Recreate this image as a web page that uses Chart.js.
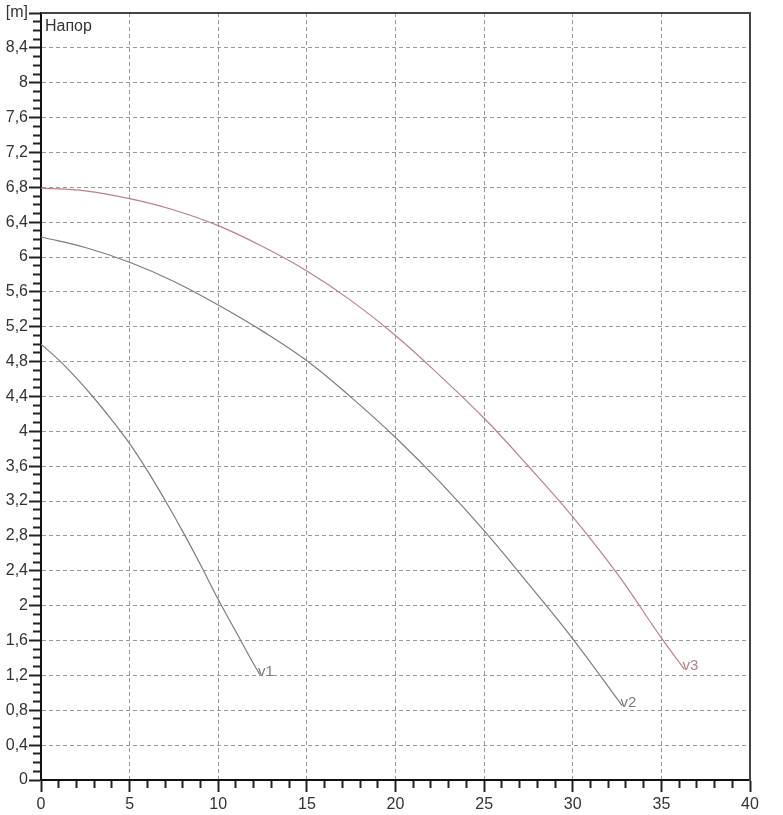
<!DOCTYPE html>
<html><head><meta charset="utf-8">
<script src="https://cdn.jsdelivr.net/npm/chart.js@4/dist/chart.umd.min.js"></script>
<style>html,body{margin:0;padding:0;background:#fff}</style>
</head><body>
<canvas id="c" width="783" height="815"></canvas>
<script>
// ---- data ----
const curveNames = ['v1', 'v2', 'v3'];
const v1X = [0, 1, 2, 3, 4, 5, 6, 7, 8, 9, 10, 11, 12, 12.35];
const v1Y = [5.0, 4.82, 4.61, 4.38, 4.13, 3.86, 3.55, 3.21, 2.85, 2.47, 2.07, 1.7, 1.33, 1.21];
const v2X = [0, 2.5, 5, 7.5, 10, 12.5, 15, 17.5, 20, 22.5, 25, 27.5, 30, 32.8];
const v2Y = [6.23, 6.11, 5.94, 5.72, 5.45, 5.15, 4.81, 4.39, 3.93, 3.42, 2.86, 2.25, 1.62, 0.85];
const v3X = [0, 2.5, 5, 7.5, 10, 12.5, 15, 17.5, 20, 22.5, 25, 27.5, 30, 32.5, 35, 36.3];
const v3Y = [6.79, 6.76, 6.67, 6.54, 6.36, 6.12, 5.84, 5.5, 5.1, 4.64, 4.15, 3.6, 3.02, 2.37, 1.63, 1.27];
const xTickLabels = ['0', '5', '10', '15', '20', '25', '30', '35', '40'];
const yUnitLabel = '[m]';
const plotTitle = 'Напор';

const seriesX = [v1X, v2X, v3X];
const seriesY = [v1Y, v2Y, v3Y];
const seriesColor = ['#7d7d7d', '#7d7d7d', '#bb8089'];

const isMult = (v, s) => Math.abs(v / s - Math.round(v / s)) < 1e-6;

const datasets = curveNames.map((n, i) => ({
  label: n,
  data: seriesX[i].map((x, j) => ({x: x, y: seriesY[i][j]})),
  borderColor: seriesColor[i],
  borderWidth: 1.2,
  pointRadius: 0,
  showLine: true,
  fill: false,
  tension: 0.4
}));

const FONT = '"Liberation Sans", Arial, sans-serif';

const annot = {
  id: 'annot',
  afterDraw(chart) {
    const ctx = chart.ctx, a = chart.chartArea;
    ctx.save();
    ctx.strokeStyle = '#444';
    ctx.lineWidth = 2;
    ctx.beginPath();
    ctx.moveTo(a.left, a.top);
    ctx.lineTo(a.right, a.top);
    ctx.lineTo(a.right, a.bottom + 1);
    ctx.stroke();
    ctx.font = '16px ' + FONT;
    ctx.fillStyle = '#333';
    ctx.textAlign = 'left';
    ctx.textBaseline = 'middle';
    ctx.fillText(plotTitle, a.left + 4, a.top + 14);
    ctx.font = '15px ' + FONT;
    chart.data.datasets.forEach((ds, i) => {
      const meta = chart.getDatasetMeta(i);
      const p = meta.data[meta.data.length - 1];
      ctx.fillStyle = ds.borderColor;
      ctx.fillText(ds.label, p.x - 2, p.y - 3);
    });
    ctx.restore();
  }
};

new Chart(document.getElementById('c'), {
  type: 'scatter',
  data: {datasets},
  plugins: [annot],
  options: {
    responsive: false,
    animation: false,
    layout: {padding: {top: 13, right: 33, left: 0, bottom: 0}},
    plugins: {legend: {display: false}, tooltip: {enabled: false}},
    scales: {
      x: {
        type: 'linear', min: 0, max: 40,
        afterFit: s => { s.height = 35; },
        ticks: {
          stepSize: 1, autoSkip: false, maxRotation: 0, padding: 3,
          color: '#333', font: {size: 16, family: FONT},
          callback: v => isMult(v, 5) ? xTickLabels[Math.round(v / 5)] : ''
        },
        grid: {
          color: c => (c.tick && isMult(c.tick.value, 5)) ? '#9a9a9a' : 'rgba(0,0,0,0)',
          lineWidth: 1,
          tickColor: '#222', tickWidth: 2, tickLength: 12,
          tickBorderDash: c => (c.tick && isMult(c.tick.value, 5)) ? [] : [7, 100]
        },
        border: {color: '#111', width: 2, dash: [4, 3]}
      },
      y: {
        type: 'linear', min: 0, max: 8.8,
        afterFit: s => { s.width = 41; },
        ticks: {
          stepSize: 0.1, autoSkip: false, padding: 1,
          color: '#333', font: {size: 16, family: FONT},
          callback: v => {
            if (!isMult(v, 0.4)) return '';
            if (Math.abs(v - 8.8) < 1e-6) return yUnitLabel;
            const r = Math.round(v * 10) / 10;
            return (Number.isInteger(r) ? String(r) : r.toFixed(1)).replace('.', ',');
          }
        },
        grid: {
          color: c => (c.tick && isMult(c.tick.value, 0.4)) ? '#9a9a9a' : 'rgba(0,0,0,0)',
          lineWidth: 1,
          tickColor: '#222', tickWidth: 2, tickLength: 12,
          tickBorderDash: c => (c.tick && isMult(c.tick.value, 0.4)) ? [] : [0, 4, 7, 100]
        },
        border: {color: '#111', width: 2, dash: [4, 3]}
      }
    }
  }
});
</script>
</body></html>
